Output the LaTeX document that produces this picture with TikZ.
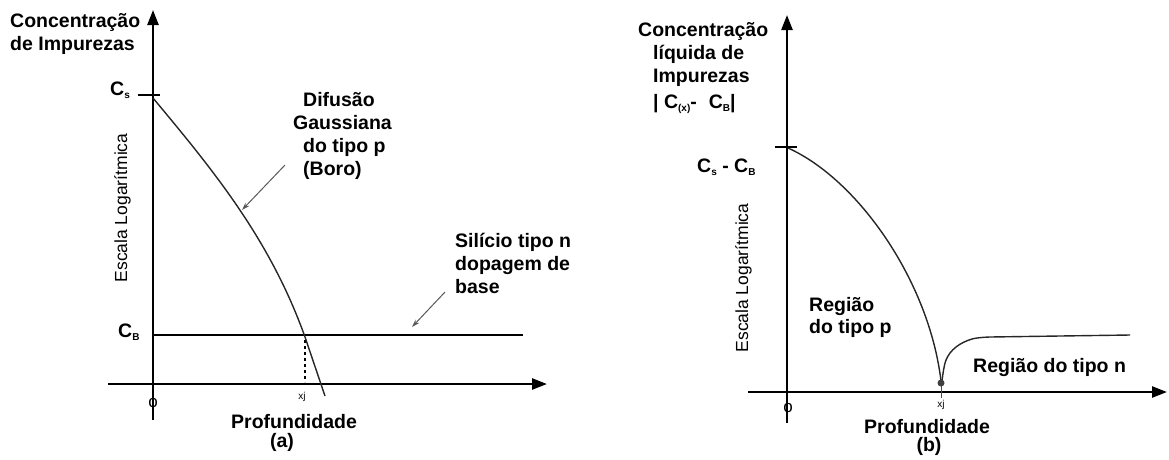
\documentclass[tikz,border=0pt]{standalone}
\usepackage{fontspec}
\setmainfont{Liberation Sans}
\usetikzlibrary{arrows.meta}
\newcommand\subs[1]{\raisebox{-3pt}{\fontsize{10}{10}\selectfont #1}}
\begin{document}
\begin{tikzpicture}[x=1pt,y=-1pt,
  axis/.style={line width=2.4pt, -{Triangle[length=15pt,width=11pt]}},
  curve/.style={line width=1.4pt, color=black!85},
  pointer/.style={line width=1pt, color=black!65, -{Stealth[length=8pt,width=5pt]}},
  lbl/.style={font=\fontsize{19.5}{22.7}\selectfont\bfseries, inner sep=0pt},
  scl/.style={font=\fontsize{17.5}{20}\selectfont, inner sep=0pt},
  tinylbl/.style={font=\fontsize{10}{12}\selectfont, inner sep=0pt},
  orig/.style={font=\fontsize{17}{17}\selectfont, inner sep=0pt, anchor=base},
]
\useasboundingbox (0,0) rectangle (1169,459);

% ---------------- panel (a) ----------------
\coordinate (ay0) at (153,420);
\coordinate (ay1) at (153,10);
\coordinate (ax0) at (108,384);
\coordinate (ax1) at (547,384);
\draw[axis] (ay0) -- (ay1);
\draw[axis] (ax0) -- (ax1);

\coordinate (acs0) at (138,95);
\coordinate (acs1) at (160,95);
\draw[line width=2pt] (acs0) -- (acs1);

\coordinate (acb0) at (153,335);
\coordinate (acb1) at (523,335);
\draw[line width=1.4pt] (acb0) -- (acb1);

\coordinate (axj0) at (305,340);
\coordinate (axj1) at (305,382);
\draw[line width=1.6pt, dash pattern=on 3pt off 3pt] (axj0) -- (axj1);

\draw[curve] (153,98) .. controls (213,170) and (270,239) .. (305,337) -- (325,396);

\node[lbl, anchor=base west, align=left] (atitle) at (10,50) {Concentração\\de Impurezas};
\node[lbl, anchor=base west] (acs) at (110,95) {C\subs{s}};
\node[lbl, anchor=base west] (acb) at (118,337) {C\subs{B}};
\node[scl, rotate=90, anchor=base] (ascale) at (127,208) {Escala Logarítmica};
\node[lbl, anchor=base west, align=left] (adif) at (303,175) {Difusão\\\hspace*{-10pt}Gaussiana\\do tipo p\\(Boro)};
\node[lbl, anchor=base west, align=left] (asil) at (455,293) {Silício tipo n\\dopagem de\\base};
\node[lbl, anchor=base] (aprof) at (294,428) {Profundidade};
\node[lbl, anchor=base] (acap) at (282,447) {(a)};
\node[tinylbl] (axj) at (302,397) {xj};
\node[orig] (ao) at (153,407) {o};

\coordinate (ap1s) at (285,165);
\coordinate (ap1e) at (242,210);
\draw[pointer] (ap1s) -- (ap1e);
\coordinate (ap2s) at (445,292);
\coordinate (ap2e) at (412,327);
\draw[pointer] (ap2s) -- (ap2e);

% ---------------- panel (b) ----------------
\coordinate (by0) at (787,423);
\coordinate (by1) at (787,15);
\coordinate (bx0) at (748,392);
\coordinate (bx1) at (1167,392);
\draw[axis] (by0) -- (by1);
\draw[axis] (bx0) -- (bx1);

\coordinate (bcs0) at (775,147);
\coordinate (bcs1) at (797,147);
\draw[line width=2pt] (bcs0) -- (bcs1);

\draw[curve] (788,148) .. controls (858,179.5) and (929,281) .. (941,381);
\draw[curve] plot[smooth, tension=0.6] coordinates {(942,381) (946,360) (956,347) (972,339) (990,337)} -- (1130,335);

\coordinate (bxj) at (941,383);
\coordinate (bxjt) at (941,398);
\draw[line width=0.8pt, color=black!70] (bxj) -- (bxjt);
\fill[black!75] (bxj) circle (3.5pt);

\node[lbl, anchor=base west, align=left] (btitle) at (653,108) {\hspace*{-15pt}Concentração\\líquida de\\Impurezas\\[3pt]| C\subs{(x)}-\hspace{12pt}C\subs{B}|};
\node[lbl, anchor=base west] (bcs) at (697,172) {C\subs{s} - C\subs{B}};
\node[scl, rotate=90, anchor=base] (bscale) at (748,278) {Escala Logarítmica};
\node[lbl, anchor=base west, align=left, font=\fontsize{19.5}{21.5}\selectfont\bfseries] (bregp) at (809,333) {Região\\do tipo p};
\node[lbl, anchor=base west] (bregn) at (973,372) {Região do tipo n};
\node[tinylbl] (bxjl) at (941,405) {xj};
\node[orig] (bo) at (788,412) {o};
\node[lbl, anchor=base] (bprof) at (927,433) {Profundidade};
\node[lbl, anchor=base] (bcap) at (929,451) {(b)};
\end{tikzpicture}
\end{document}
